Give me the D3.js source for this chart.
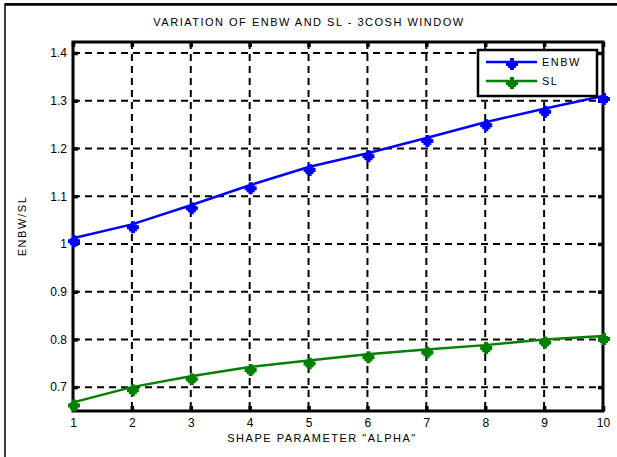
<!DOCTYPE html>
<html>
<head>
<meta charset="utf-8">
<script src="https://cdn.jsdelivr.net/npm/d3@7"></script>
<style>
  body { margin: 0; background: #fff; }
  svg { display: block; font-family: "Liberation Sans", Arial, sans-serif; }
</style>
</head>
<body>
<div id="chart"></div>
<script>
// data
const alpha = [1, 2, 3, 4, 5, 6, 7, 8, 9, 10];
const enbw = [1.012, 1.041, 1.081, 1.123, 1.161, 1.19, 1.222, 1.255, 1.283, 1.31];
const sl = [0.668, 0.7, 0.723, 0.742, 0.756, 0.769, 0.779, 0.788, 0.8, 0.807];
const yTicks = [0.7, 0.8, 0.9, 1, 1.1, 1.2, 1.3, 1.4];
const seriesNames = ["ENBW", "SL"];
const seriesColors = ["#0000ff", "#008000"];

const width = 617, height = 457;
const plotL = 73, plotR = 603, plotT = 42, plotB = 411;

const svg = d3.select("#chart").append("svg")
  .attr("width", width)
  .attr("height", height);

// figure border
svg.append("rect")
  .attr("x", 5).attr("y", 4)
  .attr("width", width + 10).attr("height", height + 10)
  .attr("fill", "none").attr("stroke", "#000").attr("stroke-width", 1.5);
svg.append("line")
  .attr("x1", 5).attr("x2", width).attr("y1", 4.5).attr("y2", 4.5)
  .attr("stroke", "#000").attr("stroke-width", 2.5);

const x = d3.scaleLinear().domain([1, 10]).range([plotL, plotR]);
const y = d3.scaleLinear().domain([0.65, 1.423]).range([plotB, plotT]);

// grid
const grid = svg.append("g").attr("stroke", "#000").attr("stroke-width", 2)
  .attr("stroke-dasharray", "7,5");
grid.selectAll(".gx").data(alpha.slice(1, -1)).enter().append("line")
  .attr("x1", d => x(d)).attr("x2", d => x(d))
  .attr("y1", plotT).attr("y2", plotB);
grid.selectAll(".gy").data(yTicks).enter().append("line")
  .attr("x1", plotL).attr("x2", plotR)
  .attr("y1", d => y(d)).attr("y2", d => y(d));

// axes
const axisStyle = g => {
  g.select(".domain").remove();
  g.selectAll(".tick line").attr("stroke", "#000").attr("stroke-width", 3.5);
  g.selectAll(".tick text").attr("fill", "#000").attr("font-size", 12)
    .attr("font-family", "'Liberation Sans', Arial, sans-serif");
};
svg.append("g").attr("transform", `translate(0,${plotB})`)
  .call(d3.axisBottom(x).tickValues(alpha).tickFormat(d3.format("d")).tickSizeInner(-5).tickPadding(7))
  .call(axisStyle);
svg.append("g").attr("transform", `translate(0,${plotT})`)
  .call(d3.axisTop(x).tickValues(alpha).tickFormat("").tickSizeInner(-5))
  .call(axisStyle);
svg.append("g").attr("transform", `translate(${plotL},0)`)
  .call(d3.axisLeft(y).tickValues(yTicks).tickFormat(d3.format("")).tickSizeInner(-5).tickPadding(6))
  .call(axisStyle);
svg.append("g").attr("transform", `translate(${plotR},0)`)
  .call(d3.axisRight(y).tickValues(yTicks).tickFormat("").tickSizeInner(-5))
  .call(axisStyle);

svg.append("rect")
  .attr("x", plotL).attr("y", plotT)
  .attr("width", plotR - plotL).attr("height", plotB - plotT)
  .attr("fill", "none").attr("stroke", "#000").attr("stroke-width", 3);

// series
const marker = d3.symbol().type(d3.symbolCross).size(80);
const line = d3.line().x((d, i) => x(alpha[i])).y(d => y(d));

function drawMarker(g, cx, cy, color) {
  g.append("path").attr("d", marker())
    .attr("transform", `translate(${cx},${cy})`).attr("fill", color);
  g.append("rect").attr("x", cx - 4).attr("y", cy - 3).attr("width", 8).attr("height", 7)
    .attr("fill", color);
}

[enbw, sl].forEach((vals, k) => {
  const g = svg.append("g");
  g.append("path").datum(vals).attr("d", line)
    .attr("fill", "none").attr("stroke", seriesColors[k]).attr("stroke-width", 2.5);
  vals.forEach((v, i) => drawMarker(g, x(alpha[i]) + 1, y(v) + 3, seriesColors[k]));
});

// legend
const lg = svg.append("g");
lg.append("rect").attr("x", 478).attr("y", 50).attr("width", 119).attr("height", 46)
  .attr("fill", "#fff").attr("stroke", "#000").attr("stroke-width", 2.5);
seriesNames.forEach((name, k) => {
  const ly = 62 + k * 19;
  lg.append("line").attr("x1", 486).attr("x2", 537).attr("y1", ly).attr("y2", ly)
    .attr("stroke", seriesColors[k]).attr("stroke-width", 2.5);
  drawMarker(lg, 512, ly + 2, seriesColors[k]);
  lg.append("text").attr("x", 542).attr("y", ly + 4)
    .attr("font-size", 11).attr("letter-spacing", 1.5).text(name);
});

// labels
svg.append("text").attr("x", 309).attr("y", 26).attr("text-anchor", "middle")
  .attr("font-size", 11).attr("letter-spacing", 1.5)
  .text("VARIATION OF ENBW AND SL - 3COSH WINDOW");
svg.append("text").attr("x", 322).attr("y", 442).attr("text-anchor", "middle")
  .attr("font-size", 11).attr("letter-spacing", 1.5)
  .text("SHAPE PARAMETER \"ALPHA\"");
svg.append("text").attr("transform", "translate(26,226) rotate(-90)")
  .attr("text-anchor", "middle").attr("font-size", 11).attr("letter-spacing", 1.6)
  .text("ENBW/SL");
</script>
</body>
</html>
